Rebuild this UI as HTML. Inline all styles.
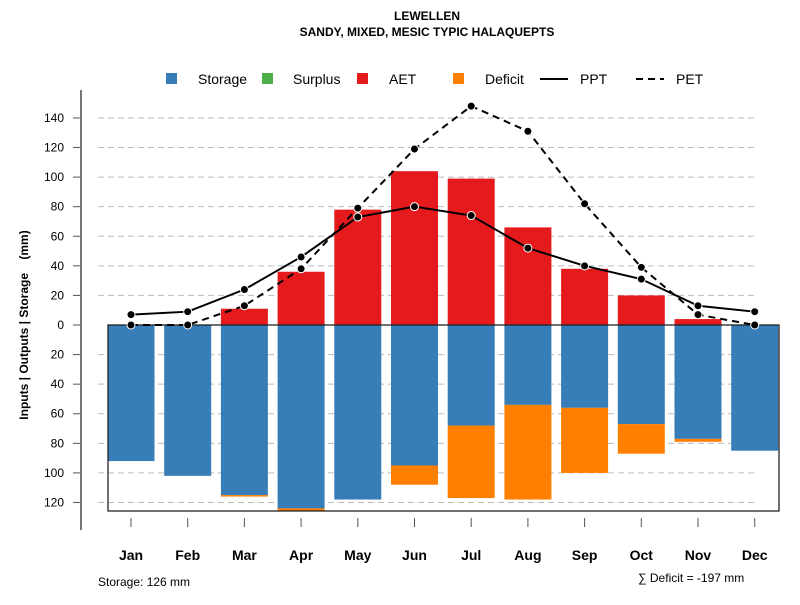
<!DOCTYPE html>
<html><head><meta charset="utf-8"><style>
body{margin:0;background:#fff}
svg{font-family:"Liberation Sans",Arial,sans-serif}
</style></head><body>
<svg id="c" width="800" height="600" viewBox="0 0 800 600" xmlns="http://www.w3.org/2000/svg">
<text x="427" y="20" text-anchor="middle" font-size="12" font-weight="bold">LEWELLEN</text>
<text x="427" y="36" text-anchor="middle" font-size="12" font-weight="bold">SANDY, MIXED, MESIC TYPIC HALAQUEPTS</text>
<g font-size="14">
<rect x="166" y="73" width="11" height="11" fill="#377eb8"/><text x="198" y="84">Storage</text>
<rect x="262" y="73" width="11" height="11" fill="#4daf4a"/><text x="293" y="84">Surplus</text>
<rect x="357" y="73" width="11" height="11" fill="#e41a1c"/><text x="389" y="84">AET</text>
<rect x="453" y="73" width="11" height="11" fill="#ff7f00"/><text x="485" y="84">Deficit</text>
<line x1="540" y1="79" x2="568" y2="79" stroke="#000" stroke-width="2"/><text x="580" y="84">PPT</text>
<line x1="636" y1="79" x2="664" y2="79" stroke="#000" stroke-width="2" stroke-dasharray="7,5"/><text x="676" y="84">PET</text>
</g>
<text transform="translate(28,325) rotate(-90)" text-anchor="middle" font-size="12" font-weight="bold" xml:space="preserve" style="white-space:pre">Inputs | Outputs | Storage    (mm)</text>
<text x="98" y="586" font-size="12">Storage: 126 mm</text>
<text x="638" y="582" font-size="12">∑ Deficit = -197 mm</text>
</svg>
<script>
const months=["Jan","Feb","Mar","Apr","May","Jun","Jul","Aug","Sep","Oct","Nov","Dec"];
const storage=[92,102,115,124,118,95,68,54,56,67,77,85];
const deficit=[0,0,1,2,0,13,49,64,44,20,2,0];
const aet=[0,0,11,36,78,104,99,66,38,20,4,0];
const ppt=[7,9,24,46,73,80,74,52,40,31,13,9];
const pet=[0,0,13,38,79,119,148,131,82,39,7,0];
const yTicks=[140,120,100,80,60,40,20,0,20,40,60,80,100,120];
const yTickVals=[140,120,100,80,60,40,20,0,-20,-40,-60,-80,-100,-120];
const NS="http://www.w3.org/2000/svg",svg=document.getElementById('c');
const y=v=>325-v*1.479;
const x=i=>131+i*56.7;
const bw=47;
function mk(t,a,p){const e=document.createElementNS(NS,t);for(const k in a)e.setAttribute(k,a[k]);(p||svg).appendChild(e);return e;}
const grid=mk('g',{});


yTickVals.forEach((v,i)=>{
  if(v!==0){const l=mk('line',{x1:98,x2:757,y1:y(v),y2:y(v),stroke:'#bbb','stroke-dasharray':'6,4'},grid);
  
  }
  const t=mk('line',{x1:73,x2:81,y1:y(v),y2:y(v),stroke:'#555'});
  
  
  const tx=mk('text',{x:64,y:y(v)+4,'text-anchor':'end','font-size':12});tx.textContent=yTicks[i];
  
  
});
const ax=mk('line',{x1:81,x2:81,y1:90,y2:530,stroke:'#777','stroke-width':2});


months.forEach((m,i)=>{
  const cx=x(i);
  const s=mk('rect',{x:cx-bw/2,y:y(0),width:bw,height:y(-storage[i])-y(0),fill:'#377eb8'});
  
  
  if(deficit[i]>0){const d=mk('rect',{x:cx-bw/2,y:y(-storage[i]),width:bw,height:y(-storage[i]-deficit[i])-y(-storage[i]),fill:'#ff7f00'});
  
  }
  if(aet[i]>0){const a=mk('rect',{x:cx-bw/2,y:y(aet[i]),width:bw,height:y(0)-y(aet[i]),fill:'#e41a1c'});
  
  }
  const t=mk('line',{x1:cx,x2:cx,y1:518,y2:527,stroke:'#555'});
  
  
  const tx=mk('text',{x:cx,y:560,'text-anchor':'middle','font-size':14,'font-weight':'bold'});tx.textContent=m;
  
  
});
const box=mk('rect',{x:108,y:325,width:671,height:186,fill:'none',stroke:'#222','stroke-width':1.3});


function series(arr,name,dash){
  const p=mk('polyline',{points:arr.map((v,i)=>x(i)+','+y(v)).join(' '),fill:'none',stroke:'#000','stroke-width':2,'stroke-dasharray':dash});
  
  
  arr.forEach((v,i)=>{const c=mk('circle',{cx:x(i),cy:y(v),r:4,fill:'#000',stroke:'#fff','stroke-width':1});
  
  });
}
series(pet,'pet','7,5');
series(ppt,'ppt','none');
</script>
</body></html>
